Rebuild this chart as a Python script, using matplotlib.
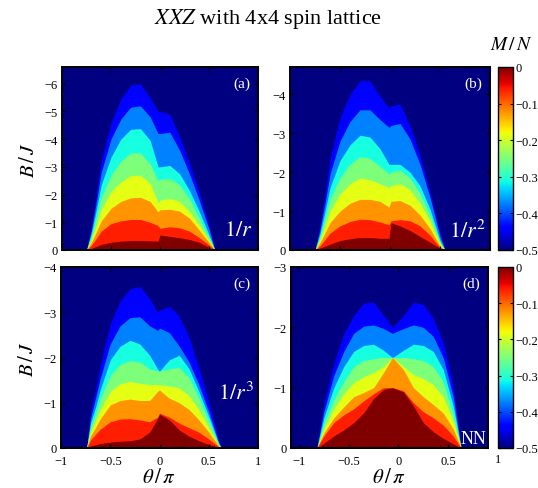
import numpy as np
import matplotlib.pyplot as plt
from matplotlib import colors, cm

plt.rcParams['font.family'] = ['Liberation Serif', 'DejaVu Serif']
plt.rcParams['mathtext.fontset'] = 'stix'

# M/N of each band, counted from B=0 outward (last value = saturated background)
mn_levels = [0, -1/16, -2/16, -3/16, -4/16, -5/16, -6/16, -7/16, -8/16]

# (a) 1/r : upper edge of each band (B/J) along theta/pi
theta_a = [-0.75, -0.7, -0.65, -0.6, -0.5, -0.4, -0.3, -0.2, -0.1, -0.02, 0.0, 0.1, 0.2, 0.3, 0.4, 0.5, 0.56]
bounds_a = [
    [0, -0.06, -0.13, -0.2, -0.28, -0.32, -0.34, -0.34, -0.33, -0.32, -0.54, -0.49, -0.44, -0.38, -0.28, -0.1, 0],
    [0, -0.17, -0.42, -0.68, -0.95, -1.05, -1.1, -1.1, -1.0, -0.88, -0.78, -0.84, -0.8, -0.68, -0.45, -0.18, 0],
    [0, -0.28, -0.65, -1.05, -1.5, -1.75, -1.88, -1.9, -1.75, -1.38, -1.45, -1.47, -1.4, -1.15, -0.72, -0.28, 0],
    [0, -0.38, -0.9, -1.45, -2.1, -2.45, -2.68, -2.7, -2.4, -1.7, -1.8, -1.86, -1.75, -1.4, -0.9, -0.35, 0],
    [0, -0.5, -1.17, -1.9, -2.7, -3.2, -3.5, -3.5, -3.1, -2.5, -2.55, -2.58, -2.35, -1.85, -1.15, -0.45, 0],
    [0, -0.6, -1.45, -2.35, -3.35, -4.0, -4.35, -4.38, -3.95, -3.0, -3.0, -3.05, -2.75, -2.15, -1.4, -0.55, 0],
    [0, -0.72, -1.72, -2.8, -4.0, -4.72, -5.15, -5.2, -4.8, -4.2, -4.2, -4.25, -3.6, -2.75, -1.8, -0.75, 0],
    [0, -0.85, -2.0, -3.25, -4.6, -5.45, -5.95, -6.0, -5.5, -5.0, -5.0, -4.9, -4.1, -3.15, -2.1, -0.9, 0],
]

# (b) 1/r^2
theta_b = [-0.75, -0.7, -0.65, -0.6, -0.5, -0.4, -0.3, -0.2, -0.1, -0.01, 0.01, 0.1, 0.2, 0.3, 0.4, 0.5, 0.55]
bounds_b = [
    [0, -0.05, -0.1, -0.15, -0.24, -0.29, -0.32, -0.32, -0.3, -0.3, -0.7, -0.62, -0.5, -0.35, -0.2, -0.05, 0],
    [0, -0.11, -0.27, -0.43, -0.62, -0.73, -0.79, -0.78, -0.72, -0.65, -0.75, -0.78, -0.75, -0.62, -0.38, -0.07, 0],
    [0, -0.19, -0.44, -0.7, -1.0, -1.2, -1.3, -1.3, -1.25, -1.1, -1.25, -1.27, -1.15, -0.9, -0.55, -0.1, 0],
    [0, -0.26, -0.62, -1.0, -1.43, -1.7, -1.85, -1.8, -1.7, -1.6, -1.65, -1.7, -1.55, -1.2, -0.75, -0.15, 0],
    [0, -0.34, -0.8, -1.3, -1.85, -2.2, -2.4, -2.35, -2.15, -1.95, -2.0, -2.05, -1.85, -1.45, -0.9, -0.2, 0],
    [0, -0.42, -1.0, -1.6, -2.3, -2.7, -2.95, -2.9, -2.6, -2.2, -2.2, -2.2, -2.0, -1.65, -1.05, -0.25, 0],
    [0, -0.52, -1.2, -1.95, -2.8, -3.3, -3.6, -3.6, -3.35, -3.15, -3.2, -3.25, -2.85, -2.2, -1.35, -0.35, 0],
    [0, -0.62, -1.45, -2.35, -3.4, -4.0, -4.35, -4.35, -3.95, -3.65, -3.7, -3.75, -3.2, -2.45, -1.5, -0.45, 0],
]

# (c) 1/r^3
theta_c = [-0.74, -0.7, -0.65, -0.6, -0.5, -0.4, -0.3, -0.2, -0.1, -0.02, 0.0, 0.1, 0.2, 0.3, 0.4, 0.5, 0.6, 0.63]
bounds_c = [
    [0, -0.05, -0.07, -0.1, -0.13, -0.15, -0.16, -0.2, -0.35, -0.65, -0.75, -0.62, -0.4, -0.26, -0.16, -0.08, -0.02, 0],
    [0, -0.18, -0.3, -0.42, -0.58, -0.64, -0.65, -0.62, -0.58, -0.68, -0.77, -0.68, -0.55, -0.45, -0.35, -0.2, -0.03, 0],
    [0, -0.27, -0.45, -0.65, -0.95, -1.05, -1.08, -1.05, -1.05, -1.25, -1.28, -1.1, -1.0, -0.85, -0.62, -0.35, -0.05, 0],
    [0, -0.35, -0.6, -0.85, -1.25, -1.42, -1.47, -1.43, -1.4, -1.4, -1.4, -1.37, -1.33, -1.15, -0.85, -0.45, -0.06, 0],
    [0, -0.45, -0.75, -1.1, -1.6, -1.85, -1.93, -1.9, -1.75, -1.7, -1.7, -1.75, -1.78, -1.55, -1.1, -0.6, -0.08, 0],
    [0, -0.55, -0.9, -1.3, -1.95, -2.25, -2.38, -2.3, -2.05, -1.75, -1.7, -1.95, -2.05, -1.75, -1.25, -0.7, -0.1, 0],
    [0, -0.65, -1.1, -1.55, -2.3, -2.7, -2.88, -2.9, -2.7, -2.6, -2.65, -2.55, -2.25, -1.9, -1.4, -0.8, -0.13, 0],
    [0, -0.8, -1.3, -1.85, -2.75, -3.25, -3.52, -3.57, -3.3, -3.0, -3.05, -3.13, -2.92, -2.45, -1.78, -1.03, -0.2, 0],
]

# (d) nearest neighbour
theta_d = [-0.82, -0.75, -0.65, -0.55, -0.45, -0.35, -0.25, -0.15, -0.06, 0.05, 0.15, 0.25, 0.35, 0.45, 0.55, 0.63]
bounds_d = [
    [0, -0.08, -0.2, -0.3, -0.42, -0.58, -0.82, -0.97, -1.0, -0.93, -0.7, -0.42, -0.27, -0.16, -0.07, 0],
    [0, -0.2, -0.42, -0.55, -0.65, -0.78, -0.9, -1.0, -1.0, -0.95, -0.75, -0.6, -0.5, -0.38, -0.2, 0],
    [0, -0.25, -0.5, -0.68, -0.85, -0.92, -1.0, -1.25, -1.5, -1.3, -1.0, -0.85, -0.72, -0.58, -0.32, 0],
    [0, -0.32, -0.65, -0.9, -1.08, -1.18, -1.25, -1.35, -1.5, -1.35, -1.22, -1.15, -1.05, -0.85, -0.45, 0],
    [0, -0.4, -0.8, -1.1, -1.35, -1.45, -1.48, -1.5, -1.5, -1.5, -1.48, -1.45, -1.35, -1.1, -0.55, 0],
    [0, -0.5, -1.0, -1.35, -1.6, -1.7, -1.72, -1.62, -1.5, -1.62, -1.72, -1.7, -1.6, -1.3, -0.7, 0],
    [0, -0.6, -1.2, -1.6, -1.9, -2.02, -2.04, -1.98, -1.9, -1.98, -2.04, -2.0, -1.85, -1.5, -0.85, 0],
    [0, -0.75, -1.4, -1.9, -2.2, -2.4, -2.42, -2.2, -2.0, -2.2, -2.42, -2.38, -2.15, -1.75, -1.05, 0],
]

xticks = [-1, -0.5, 0, 0.5, 1]
xtick_labels = ['\u22121', '\u22120.5', '0', '0.5', '1']
cb_ticks = [0, -0.1, -0.2, -0.3, -0.4, -0.5]
cb_labels = ['0', '\u22120.1', '\u22120.2', '\u22120.3', '\u22120.4', '\u22120.5']

cmap = plt.get_cmap('jet')
norm = colors.Normalize(vmin=-0.5, vmax=0)

W, H = 538, 489
fig = plt.figure(figsize=(W / 100, H / 100), dpi=100)


def box(l, t, r, b):
    return [l / W, 1 - b / H, (r - l) / W, (b - t) / H]


def panel(rect, theta, bounds, ymax, xlim, tag, bottom_row):
    ax = fig.add_axes(rect)
    ax.set_facecolor(cmap(norm(mn_levels[-1])))
    for k in range(len(bounds) - 1, -1, -1):
        ax.fill_between(theta, 0, bounds[k], color=cmap(norm(mn_levels[k])), lw=0)
    yt = list(range(0, -int(ymax) - 1, -1))
    ax.set_yticks(yt, ['0' if v == 0 else '\u2212%d' % -v for v in yt])
    if bottom_row:
        ax.set_xticks(xticks, xtick_labels)
        ax.set_xlabel(r'$\theta\,/\,\pi$', fontsize=15, labelpad=1)
    else:
        ax.set_xticks(xticks, [])
    # limits after the ticks, so the ticks do not widen the view
    ax.set_xlim(xlim)
    ax.set_ylim(0, -ymax)
    ax.tick_params(direction='in', length=3, labelsize=9, top=True, right=True)
    ax.tick_params(axis='x', pad=5)
    ax.tick_params(axis='y', pad=3)
    for s in ax.spines.values():
        s.set_linewidth(1.4)
    ax.text(0.96, 0.95, tag, transform=ax.transAxes, color='white', fontsize=11,
            ha='right', va='top')
    return ax


ax_a = panel(box(62, 68, 258, 251), theta_a, bounds_a, 6.6, (-1, 1), '(a)', False)
ax_b = panel(box(290, 68, 490, 251), theta_b, bounds_b, 4.7, (-1, 1), '(b)', False)
ax_c = panel(box(61, 268, 258, 449), theta_c, bounds_c, 4.0, (-1, 1), '(c)', True)
ax_d = panel(box(291, 268, 488, 449), theta_d, bounds_d, 3.0, (-1.08, 0.9), '(d)', True)

# the '1' label of panel (d) sits just past the right edge in the original
ax_d.text(1.0, -0.028, '1', transform=ax_d.get_xaxis_transform(), ha='center', va='top',
          fontsize=9, clip_on=False)

ax_a.text(0.97, 0.08, r'$1/r$', transform=ax_a.transAxes, color='white', fontsize=16, ha='right')
ax_b.text(0.98, 0.07, r'$1/r^2$', transform=ax_b.transAxes, color='white', fontsize=16, ha='right')
ax_c.text(0.98, 0.27, r'$1/r^3$', transform=ax_c.transAxes, color='white', fontsize=16, ha='right')
ax_d.text(0.99, 0.03, 'NN', transform=ax_d.transAxes, color='white', fontsize=13, ha='right')

for ax in (ax_a, ax_c):
    ax.set_ylabel(r'$B\,/\,J$', fontsize=15, labelpad=4)

sm = cm.ScalarMappable(norm=norm, cmap=cmap)
for rect in (box(498, 68, 513, 251), box(498, 268, 513, 449)):
    cax = fig.add_axes(rect)
    cb = fig.colorbar(sm, cax=cax)
    cb.set_ticks(cb_ticks, labels=cb_labels)
    cb.ax.tick_params(direction='in', length=2.5, labelsize=9, pad=2, left=True, right=True)
    cb.outline.set_linewidth(1.0)

fig.text(511 / W, 1 - 45 / H, r'$M\,/\,N$', fontsize=14, ha='center', va='center')
fig.text(268 / W, 1 - 19 / H, r'$XXZ$ with 4x4 spin lattice', fontsize=16, ha='center', va='center')

fig.savefig('out.png', dpi=100)
